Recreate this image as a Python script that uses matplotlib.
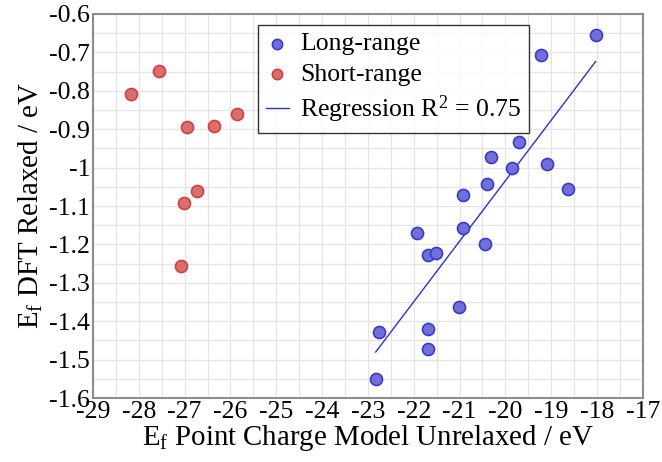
import numpy as np
import matplotlib
matplotlib.use("Agg")
import matplotlib.pyplot as plt
from matplotlib.ticker import MultipleLocator

plt.rcParams['font.family'] = ['Liberation Serif', 'DejaVu Serif']
plt.rcParams['mathtext.fontset'] = 'custom'
plt.rcParams['mathtext.rm'] = 'Liberation Serif'
plt.rcParams['mathtext.it'] = 'Liberation Serif:italic'

# long-range points
long_x = [-18.03, -19.23, -19.71, -20.31, -19.85, -19.09, -20.39, -18.63, -20.92, -20.93,
          -21.92, -20.45, -21.68, -21.52, -21.01, -22.75, -21.68, -21.68, -22.83]
long_y = [-0.654, -0.708, -0.933, -0.972, -1.002, -0.990, -1.042, -1.056, -1.071, -1.156,
          -1.170, -1.200, -1.228, -1.223, -1.362, -1.429, -1.419, -1.473, -1.550]

# short-range points
short_x = [-28.17, -27.55, -26.95, -26.35, -25.86, -26.74, -27.01, -27.09]
short_y = [-0.809, -0.748, -0.895, -0.892, -0.860, -1.061, -1.091, -1.255]

r2_label = "Regression R$^2$ = 0.75"

fig = plt.figure(figsize=(6.62, 4.62), dpi=100)
ax = fig.add_axes([0.1405, 0.1385, 0.8305, 0.8312])

# fit on long-range only
k, b = np.polyfit(long_x, long_y, 1)
xf = np.array([min(long_x), max(long_x)])

ax.scatter(long_x, long_y, s=75, c='#7070d8', edgecolors='#3a3acc', linewidths=1.2,
           label='Long-range', zorder=3)
ax.scatter(short_x, short_y, s=75, c='#d87070', edgecolors='#d83c3c', linewidths=1.2,
           label='Short-range', zorder=3)
ax.plot(xf, k * xf + b, color='#3030d0', lw=1.0, label=r2_label, zorder=2)

ax.set_xlim(-29, -17)
ax.set_ylim(-1.6, -0.6)
ax.xaxis.set_major_locator(MultipleLocator(1))
ax.yaxis.set_major_locator(MultipleLocator(0.1))
ax.xaxis.set_minor_locator(MultipleLocator(0.5))
ax.yaxis.set_minor_locator(MultipleLocator(0.05))
ax.grid(True, which='both', color='#e4e4e4', lw=0.9)
ax.set_axisbelow(True)
ax.tick_params(which='both', length=0, labelsize=18.5, pad=2)
ax.xaxis.set_major_formatter(matplotlib.ticker.FuncFormatter(lambda v, p: '%g' % v))
ax.yaxis.set_major_formatter(matplotlib.ticker.FuncFormatter(lambda v, p: '%g' % v))
for s in ax.spines.values():
    s.set_color('#8c8c8c')
    s.set_linewidth(1.5)

ax.set_xlabel('E$_\\mathrm{f}$ Point Charge Model Unrelaxed / eV', fontsize=20.8, labelpad=0)
ax.set_ylabel('E$_\\mathrm{f}$ DFT Relaxed / eV', fontsize=20.8, labelpad=3)

leg = ax.legend(loc='upper left', bbox_to_anchor=(0.3, 0.972), fontsize=18.5,
                frameon=True, fancybox=False, markerscale=0.85, handlelength=0.9,
                handletextpad=0.45, borderpad=0.3, labelspacing=0.3, borderaxespad=0)
leg.get_frame().set_edgecolor('black')
leg.get_frame().set_linewidth(1.0)

fig.savefig('out.png', dpi=100)
